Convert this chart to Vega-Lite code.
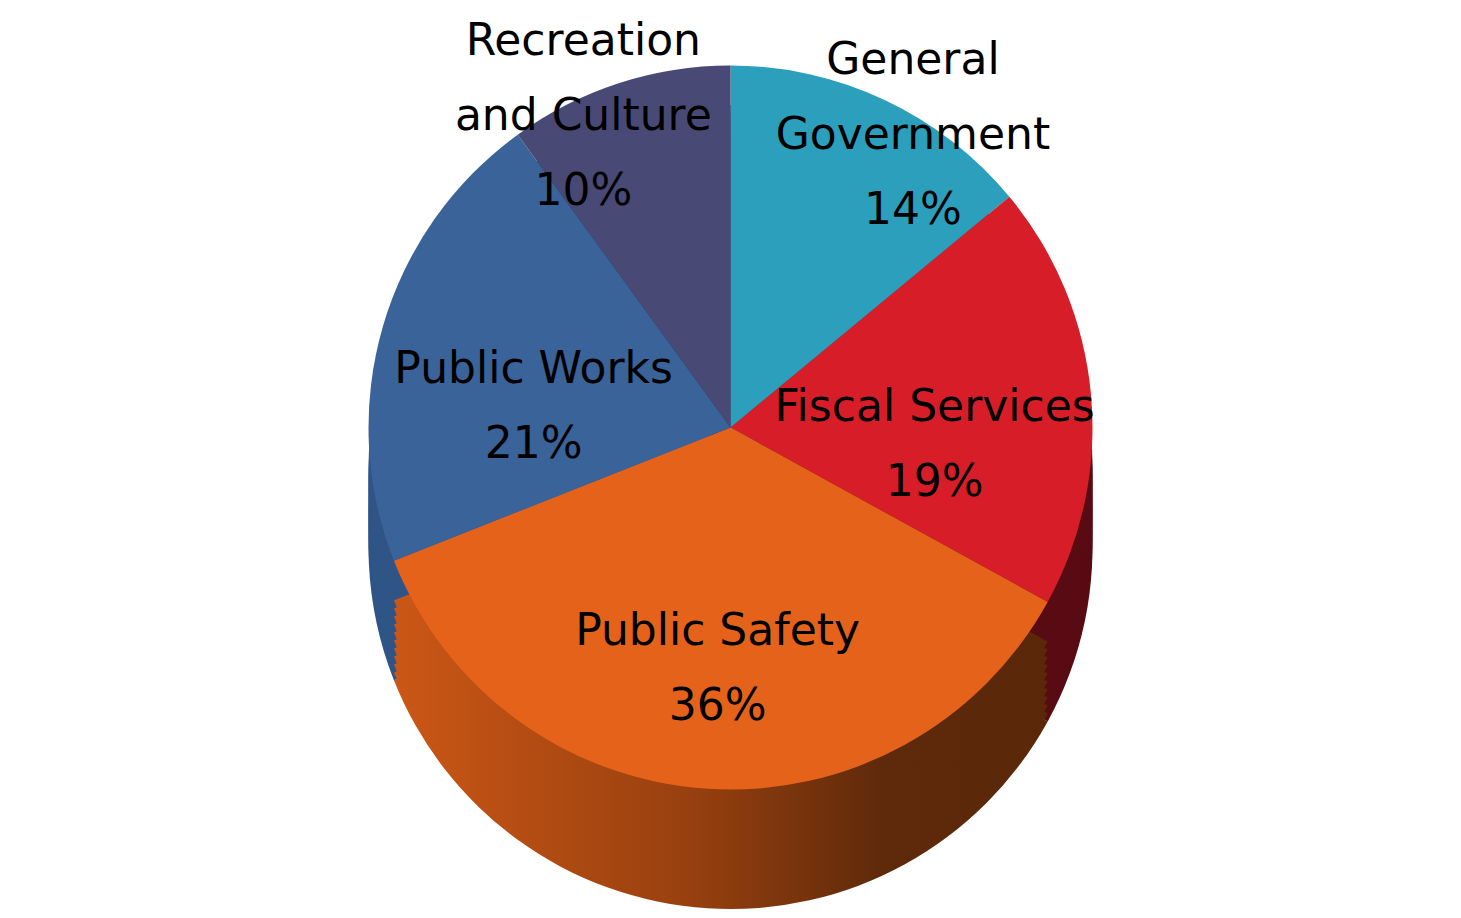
{
  "$schema": "https://vega.github.io/schema/vega-lite/v6.json",
  "width": 1461,
  "height": 918,
  "padding": 0,
  "autosize": {"type": "fit", "contains": "padding"},
  "background": "white",
  "config": {"view": {"stroke": null}},
  "data": {
    "values": [
      {"category": "General Government", "value": 14, "order": 1, "label": ["General", "Government", "14%"]},
      {"category": "Fiscal Services", "value": 19, "order": 2, "label": ["Fiscal Services", "19%"]},
      {"category": "Public Safety", "value": 36, "order": 3, "label": ["Public Safety", "36%"]},
      {"category": "Public Works", "value": 21, "order": 4, "label": ["Public Works", "21%"]},
      {"category": "Recreation and Culture", "value": 10, "order": 5, "label": ["Recreation", "and Culture", "10%"]}
    ]
  },
  "layer": [
    {"mark": {"type": "arc", "radius": 362, "yOffset": 88}, "encoding": {"theta": {"field": "value", "type": "quantitative", "stack": true}, "order": {"field": "order", "type": "quantitative"}, "color": {"field": "category", "type": "nominal", "legend": null, "scale": {"domain": ["General Government", "Fiscal Services", "Public Safety", "Public Works", "Recreation and Culture"], "range": ["#1E6F84", "#590B14", "#8E3C10", "#2F5587", "#30324F"]}, "condition": {"test": "datum.category === 'Public Safety'", "value": {"gradient": "linear", "x1": 0, "y1": 0, "x2": 1, "y2": 0, "stops": [{"offset": 0, "color": "#CB5716"}, {"offset": 0.45, "color": "#98400F"}, {"offset": 0.75, "color": "#5E2A0A"}, {"offset": 1, "color": "#5A2709"}]}}}}},
    {"mark": {"type": "arc", "radius": 362, "yOffset": 80}, "encoding": {"theta": {"field": "value", "type": "quantitative", "stack": true}, "order": {"field": "order", "type": "quantitative"}, "color": {"field": "category", "type": "nominal", "legend": null, "scale": {"domain": ["General Government", "Fiscal Services", "Public Safety", "Public Works", "Recreation and Culture"], "range": ["#1E6F84", "#590B14", "#8E3C10", "#2F5587", "#30324F"]}, "condition": {"test": "datum.category === 'Public Safety'", "value": {"gradient": "linear", "x1": 0, "y1": 0, "x2": 1, "y2": 0, "stops": [{"offset": 0, "color": "#CB5716"}, {"offset": 0.45, "color": "#98400F"}, {"offset": 0.75, "color": "#5E2A0A"}, {"offset": 1, "color": "#5A2709"}]}}}}},
    {"mark": {"type": "arc", "radius": 362, "yOffset": 72}, "encoding": {"theta": {"field": "value", "type": "quantitative", "stack": true}, "order": {"field": "order", "type": "quantitative"}, "color": {"field": "category", "type": "nominal", "legend": null, "scale": {"domain": ["General Government", "Fiscal Services", "Public Safety", "Public Works", "Recreation and Culture"], "range": ["#1E6F84", "#590B14", "#8E3C10", "#2F5587", "#30324F"]}, "condition": {"test": "datum.category === 'Public Safety'", "value": {"gradient": "linear", "x1": 0, "y1": 0, "x2": 1, "y2": 0, "stops": [{"offset": 0, "color": "#CB5716"}, {"offset": 0.45, "color": "#98400F"}, {"offset": 0.75, "color": "#5E2A0A"}, {"offset": 1, "color": "#5A2709"}]}}}}},
    {"mark": {"type": "arc", "radius": 362, "yOffset": 64}, "encoding": {"theta": {"field": "value", "type": "quantitative", "stack": true}, "order": {"field": "order", "type": "quantitative"}, "color": {"field": "category", "type": "nominal", "legend": null, "scale": {"domain": ["General Government", "Fiscal Services", "Public Safety", "Public Works", "Recreation and Culture"], "range": ["#1E6F84", "#590B14", "#8E3C10", "#2F5587", "#30324F"]}, "condition": {"test": "datum.category === 'Public Safety'", "value": {"gradient": "linear", "x1": 0, "y1": 0, "x2": 1, "y2": 0, "stops": [{"offset": 0, "color": "#CB5716"}, {"offset": 0.45, "color": "#98400F"}, {"offset": 0.75, "color": "#5E2A0A"}, {"offset": 1, "color": "#5A2709"}]}}}}},
    {"mark": {"type": "arc", "radius": 362, "yOffset": 56}, "encoding": {"theta": {"field": "value", "type": "quantitative", "stack": true}, "order": {"field": "order", "type": "quantitative"}, "color": {"field": "category", "type": "nominal", "legend": null, "scale": {"domain": ["General Government", "Fiscal Services", "Public Safety", "Public Works", "Recreation and Culture"], "range": ["#1E6F84", "#590B14", "#8E3C10", "#2F5587", "#30324F"]}, "condition": {"test": "datum.category === 'Public Safety'", "value": {"gradient": "linear", "x1": 0, "y1": 0, "x2": 1, "y2": 0, "stops": [{"offset": 0, "color": "#CB5716"}, {"offset": 0.45, "color": "#98400F"}, {"offset": 0.75, "color": "#5E2A0A"}, {"offset": 1, "color": "#5A2709"}]}}}}},
    {"mark": {"type": "arc", "radius": 362, "yOffset": 48}, "encoding": {"theta": {"field": "value", "type": "quantitative", "stack": true}, "order": {"field": "order", "type": "quantitative"}, "color": {"field": "category", "type": "nominal", "legend": null, "scale": {"domain": ["General Government", "Fiscal Services", "Public Safety", "Public Works", "Recreation and Culture"], "range": ["#1E6F84", "#590B14", "#8E3C10", "#2F5587", "#30324F"]}, "condition": {"test": "datum.category === 'Public Safety'", "value": {"gradient": "linear", "x1": 0, "y1": 0, "x2": 1, "y2": 0, "stops": [{"offset": 0, "color": "#CB5716"}, {"offset": 0.45, "color": "#98400F"}, {"offset": 0.75, "color": "#5E2A0A"}, {"offset": 1, "color": "#5A2709"}]}}}}},
    {"mark": {"type": "arc", "radius": 362, "yOffset": 40}, "encoding": {"theta": {"field": "value", "type": "quantitative", "stack": true}, "order": {"field": "order", "type": "quantitative"}, "color": {"field": "category", "type": "nominal", "legend": null, "scale": {"domain": ["General Government", "Fiscal Services", "Public Safety", "Public Works", "Recreation and Culture"], "range": ["#1E6F84", "#590B14", "#8E3C10", "#2F5587", "#30324F"]}, "condition": {"test": "datum.category === 'Public Safety'", "value": {"gradient": "linear", "x1": 0, "y1": 0, "x2": 1, "y2": 0, "stops": [{"offset": 0, "color": "#CB5716"}, {"offset": 0.45, "color": "#98400F"}, {"offset": 0.75, "color": "#5E2A0A"}, {"offset": 1, "color": "#5A2709"}]}}}}},
    {"mark": {"type": "arc", "radius": 362, "yOffset": 32}, "encoding": {"theta": {"field": "value", "type": "quantitative", "stack": true}, "order": {"field": "order", "type": "quantitative"}, "color": {"field": "category", "type": "nominal", "legend": null, "scale": {"domain": ["General Government", "Fiscal Services", "Public Safety", "Public Works", "Recreation and Culture"], "range": ["#1E6F84", "#590B14", "#8E3C10", "#2F5587", "#30324F"]}, "condition": {"test": "datum.category === 'Public Safety'", "value": {"gradient": "linear", "x1": 0, "y1": 0, "x2": 1, "y2": 0, "stops": [{"offset": 0, "color": "#CB5716"}, {"offset": 0.45, "color": "#98400F"}, {"offset": 0.75, "color": "#5E2A0A"}, {"offset": 1, "color": "#5A2709"}]}}}}},
    {"mark": {"type": "arc", "radius": 362, "yOffset": 24}, "encoding": {"theta": {"field": "value", "type": "quantitative", "stack": true}, "order": {"field": "order", "type": "quantitative"}, "color": {"field": "category", "type": "nominal", "legend": null, "scale": {"domain": ["General Government", "Fiscal Services", "Public Safety", "Public Works", "Recreation and Culture"], "range": ["#1E6F84", "#590B14", "#8E3C10", "#2F5587", "#30324F"]}, "condition": {"test": "datum.category === 'Public Safety'", "value": {"gradient": "linear", "x1": 0, "y1": 0, "x2": 1, "y2": 0, "stops": [{"offset": 0, "color": "#CB5716"}, {"offset": 0.45, "color": "#98400F"}, {"offset": 0.75, "color": "#5E2A0A"}, {"offset": 1, "color": "#5A2709"}]}}}}},
    {"mark": {"type": "arc", "radius": 362, "yOffset": 16}, "encoding": {"theta": {"field": "value", "type": "quantitative", "stack": true}, "order": {"field": "order", "type": "quantitative"}, "color": {"field": "category", "type": "nominal", "legend": null, "scale": {"domain": ["General Government", "Fiscal Services", "Public Safety", "Public Works", "Recreation and Culture"], "range": ["#1E6F84", "#590B14", "#8E3C10", "#2F5587", "#30324F"]}, "condition": {"test": "datum.category === 'Public Safety'", "value": {"gradient": "linear", "x1": 0, "y1": 0, "x2": 1, "y2": 0, "stops": [{"offset": 0, "color": "#CB5716"}, {"offset": 0.45, "color": "#98400F"}, {"offset": 0.75, "color": "#5E2A0A"}, {"offset": 1, "color": "#5A2709"}]}}}}},
    {"mark": {"type": "arc", "radius": 362, "yOffset": 8}, "encoding": {"theta": {"field": "value", "type": "quantitative", "stack": true}, "order": {"field": "order", "type": "quantitative"}, "color": {"field": "category", "type": "nominal", "legend": null, "scale": {"domain": ["General Government", "Fiscal Services", "Public Safety", "Public Works", "Recreation and Culture"], "range": ["#1E6F84", "#590B14", "#8E3C10", "#2F5587", "#30324F"]}, "condition": {"test": "datum.category === 'Public Safety'", "value": {"gradient": "linear", "x1": 0, "y1": 0, "x2": 1, "y2": 0, "stops": [{"offset": 0, "color": "#CB5716"}, {"offset": 0.45, "color": "#98400F"}, {"offset": 0.75, "color": "#5E2A0A"}, {"offset": 1, "color": "#5A2709"}]}}}}},
    {
      "mark": {"type": "arc", "radius": 362, "yOffset": -31.5},
      "encoding": {
        "theta": {"field": "value", "type": "quantitative", "stack": true},
        "order": {"field": "order", "type": "quantitative"},
        "color": {
          "field": "category", "type": "nominal", "legend": null,
          "scale": {"domain": ["General Government", "Fiscal Services", "Public Safety", "Public Works", "Recreation and Culture"],
                    "range": ["#2C9FBD", "#D71E28", "#E5621B", "#3A6399", "#484A75"]}
        }
      }
    },
    {
      "mark": {"type": "text", "radius": 205, "yOffset": -31.5, "fontSize": 44, "font": "DejaVu Sans", "lineHeight": 75, "baseline": "middle", "align": "center", "color": "black"},
      "encoding": {
        "theta": {"field": "value", "type": "quantitative", "stack": true},
        "order": {"field": "order", "type": "quantitative"},
        "text": {"condition": {"test": "datum.category !== 'General Government' && datum.category !== 'Recreation and Culture'", "field": "label", "type": "nominal"}, "value": ""}
      }
    },
    {
      "mark": {"type": "text", "radius": 405, "yOffset": -31.5, "xOffset": -22, "fontSize": 44, "font": "DejaVu Sans", "lineHeight": 75, "baseline": "middle", "align": "center", "color": "black"},
      "encoding": {
        "theta": {"field": "value", "type": "quantitative", "stack": true},
        "order": {"field": "order", "type": "quantitative"},
        "text": {"condition": {"test": "datum.category === 'Recreation and Culture'", "field": "label", "type": "nominal"}, "value": ""}
      }
    },
    {
      "mark": {"type": "text", "radius": 405, "yOffset": -31.5, "xOffset": 10, "fontSize": 44, "font": "DejaVu Sans", "lineHeight": 75, "baseline": "middle", "align": "center", "color": "black"},
      "encoding": {
        "theta": {"field": "value", "type": "quantitative", "stack": true},
        "order": {"field": "order", "type": "quantitative"},
        "text": {"condition": {"test": "datum.category === 'General Government'", "field": "label", "type": "nominal"}, "value": ""}
      }
    }
  ],
  "resolve": {"scale": {"color": "independent"}}
}
